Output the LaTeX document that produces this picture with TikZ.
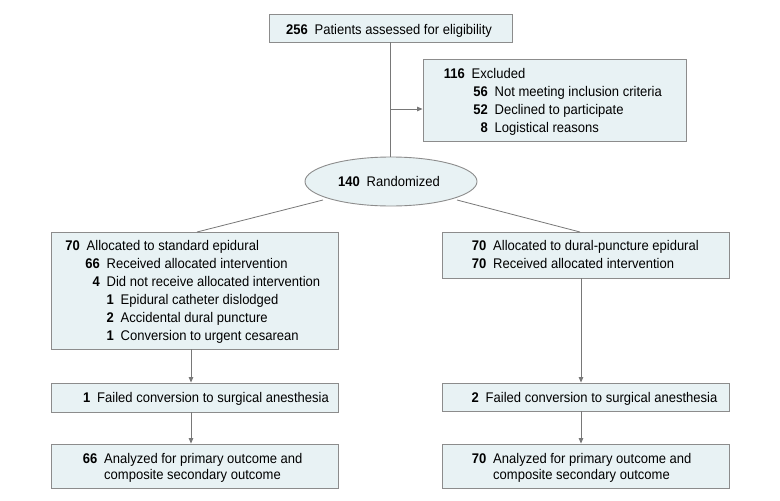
\documentclass[tikz,border=0pt]{standalone}
\usepackage{fontspec}
\setmainfont{Liberation Sans}[FakeStretch=0.93]
\usetikzlibrary{shapes.geometric,arrows.meta}
\definecolor{boxfill}{RGB}{232,242,244}
\definecolor{boxline}{RGB}{140,140,140}
\definecolor{conline}{RGB}{120,120,120}
\tikzset{
  x=1pt, y=-1pt,
  box/.style={draw=boxline, fill=boxfill, line width=0.9pt, inner sep=0, rectangle},
  ell/.style={draw=boxline, fill=boxfill, line width=0.9pt, inner sep=0, ellipse},
  num/.style={anchor=base east, inner sep=0, font=\fontsize{14}{16}\selectfont\bfseries},
  txt/.style={anchor=base west, inner sep=0, font=\fontsize{14}{16}\selectfont},
  con/.style={draw=conline, line width=0.8pt},
  arr/.style={con, -{Triangle[length=5.5pt,width=4.5pt]}},
}
\newcommand{\fline}[5]{%
  \node[num] (#1n) at (#2,#3) {#4};
  \node[txt] (#1t) at (#2+6.5,#3) {#5};}
\begin{document}
\begin{tikzpicture}
\useasboundingbox (0,0) rectangle (780,501);
\fill[white] (0,0) rectangle (780,501);
% boxes
\node[box, minimum width=243pt, minimum height=28pt] (top) at (390.5,28) {};
\node[box, minimum width=263pt, minimum height=82pt] (exc) at (554.5,100) {};
\node[ell, minimum width=172pt, minimum height=49pt] (rand) at (391,181.5) {};
\node[box, minimum width=287pt, minimum height=117pt] (lb) at (194.5,290.5) {};
\node[box, minimum width=287pt, minimum height=29pt] (lf) at (194.5,397.5) {};
\node[box, minimum width=287pt, minimum height=44pt] (la) at (194.5,466) {};
\node[box, minimum width=287pt, minimum height=46pt] (rb) at (585.5,255) {};
\node[box, minimum width=287pt, minimum height=28pt] (rf) at (585.5,397) {};
\node[box, minimum width=287pt, minimum height=44pt] (ra) at (585.5,466) {};
% texts
\fline{t1}{308}{34}{256}{Patients assessed for eligibility}
\fline{e1}{465}{78.3}{116}{Excluded}
\fline{e2}{488}{96.5}{56}{Not meeting inclusion criteria}
\fline{e3}{488}{114.5}{52}{Declined to participate}
\fline{e4}{488}{132.5}{8}{Logistical reasons}
\fline{r1}{360}{186.5}{140}{Randomized}
\fline{l1}{80}{250}{70}{Allocated to standard epidural}
\fline{l2}{100}{268}{66}{Received allocated intervention}
\fline{l3}{100}{286}{4}{Did not receive allocated intervention}
\fline{l4}{114}{304}{1}{Epidural catheter dislodged}
\fline{l5}{114}{322}{2}{Accidental dural puncture}
\fline{l6}{114}{340}{1}{Conversion to urgent cesarean}
\fline{lf}{90.5}{402.5}{1}{Failed conversion to surgical anesthesia}
\fline{la}{97.5}{463}{66}{Analyzed for primary outcome and}
\node[txt] (la2) at (104,479) {composite secondary outcome};
\fline{q1}{486.5}{250}{70}{Allocated to dural-puncture epidural}
\fline{q2}{486.5}{268}{70}{Received allocated intervention}
\fline{rf}{479}{402.5}{2}{Failed conversion to surgical anesthesia}
\fline{ra}{486.5}{463}{70}{Analyzed for primary outcome and}
\node[txt] (ra2) at (493,479) {composite secondary outcome};
% connectors
\coordinate (split) at (390,109);
\coordinate (xl) at (191,0);
\coordinate (xr) at (581,0);
\coordinate (lt) at (197,232);
\coordinate (rt) at (580,232);
\draw[con] (top.south -| split) -- (rand.north -| split);
\draw[arr] (split) -- (exc.west |- split);
\draw[con] (rand) ++(-68,18.5) -- (lt);
\draw[con] (rand) ++(66,18.5) -- (rt);
\draw[arr] (lb.south -| xl) -- (lf.north -| xl);
\draw[arr] (lf.south -| xl) -- (la.north -| xl);
\draw[arr] (rb.south -| xr) -- (rf.north -| xr);
\draw[arr] (rf.south -| xr) -- (ra.north -| xr);
\end{tikzpicture}
\end{document}
